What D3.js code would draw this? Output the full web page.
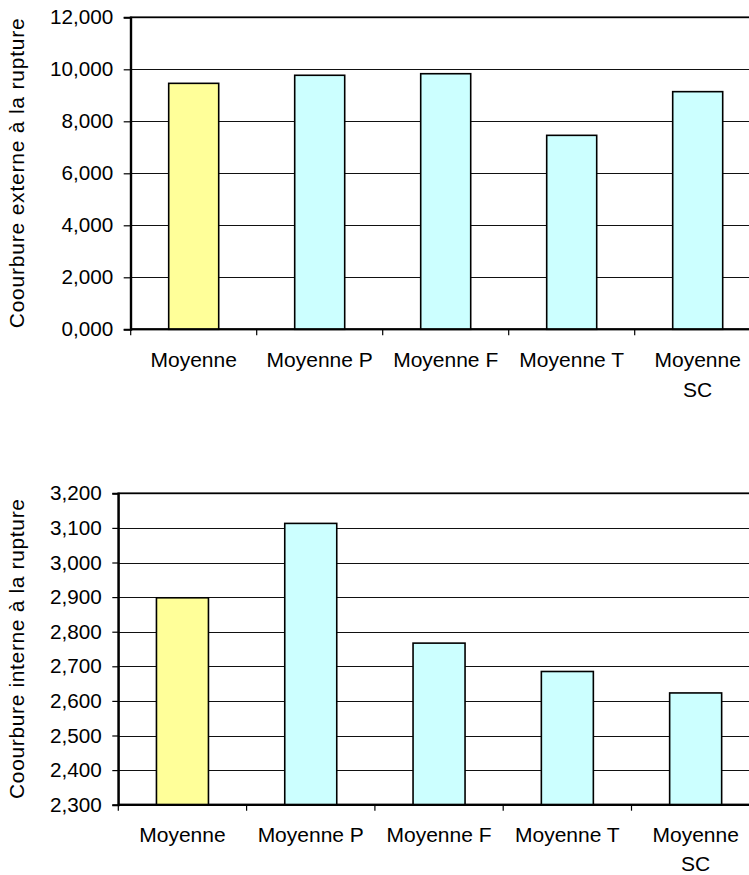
<!DOCTYPE html>
<html>
<head>
<meta charset="utf-8">
<script src="https://cdn.jsdelivr.net/npm/d3@7"></script>
<style>
  body { margin: 0; background: #fff; }
  svg { display: block; font-family: "Liberation Sans", Arial, sans-serif; }
</style>
</head>
<body>
<svg id="chart" width="749" height="875"></svg>
<script>
// ---- Data ----
const categories = ["Moyenne", "Moyenne P", "Moyenne F", "Moyenne T", "Moyenne SC"];
const categoryLabels = [["Moyenne"], ["Moyenne P"], ["Moyenne F"], ["Moyenne T"], ["Moyenne", "SC"]];
const externeValues = [9.46, 9.77, 9.83, 7.46, 9.14];
const interneValues = [2.898, 3.113, 2.767, 2.685, 2.623];
const externeTicks = [0, 2, 4, 6, 8, 10, 12];
const interneTicks = [2.3, 2.4, 2.5, 2.6, 2.7, 2.8, 2.9, 3.0, 3.1, 3.2];
const barColors = ["#FFFF99", "#CCFFFF", "#CCFFFF", "#CCFFFF", "#CCFFFF"];
const externeTitle = "Coourbure externe à la rupture";
const interneTitle = "Coourbure interne à la rupture";

const fr = d3.formatLocale({decimal: ",", thousands: " ", grouping: [3], currency: ["", ""]});
const fmt = fr.format(".3f");

const svg = d3.select("#chart");

function drawChart(cfg) {
  const g = svg.append("g");
  const n = categories.length;
  const width = cfg.step * n;
  const p = 1 - cfg.barW / cfg.step;
  const x = d3.scaleBand().domain(categories).range([cfg.left, cfg.left + width])
    .paddingInner(p).paddingOuter(p / 2);
  const y = d3.scaleLinear().domain(cfg.domain).range([cfg.bottom, cfg.top]);
  const xb = d3.scaleLinear().domain([0, n]).range([cfg.left, cfg.left + width]);

  // gridlines
  g.append("g").selectAll("line").data(cfg.ticks).join("line")
    .attr("x1", cfg.left).attr("x2", cfg.left + width)
    .attr("y1", d => Math.round(y(d)) + 0.5).attr("y2", d => Math.round(y(d)) + 0.5)
    .attr("stroke", "#111").attr("stroke-width", 1);

  // plot border
  g.append("rect").attr("x", cfg.left).attr("y", cfg.top)
    .attr("width", width).attr("height", cfg.bottom - cfg.top)
    .attr("fill", "none").attr("stroke", "#000").attr("stroke-width", 1.8);

  // bars
  g.append("g").selectAll("rect").data(cfg.values).join("rect")
    .attr("x", (d, i) => x(categories[i]))
    .attr("width", x.bandwidth())
    .attr("y", d => y(d))
    .attr("height", d => cfg.bottom - y(d))
    .attr("fill", (d, i) => barColors[i])
    .attr("stroke", "#000").attr("stroke-width", 1.6);

  // y axis
  const ya = g.append("g").attr("transform", `translate(${cfg.left},0)`)
    .call(d3.axisLeft(y).tickValues(cfg.ticks).tickFormat(fmt).tickSize(cfg.tickLen).tickPadding(cfg.tickPad));
  ya.select(".domain").attr("stroke", "#000").attr("stroke-width", 2);
  ya.selectAll(".tick line").attr("stroke", "#000").attr("stroke-width", 1.2);
  ya.selectAll(".tick text").attr("font-size", 20.7).attr("fill", "#000")
    .attr("font-family", "Liberation Sans, Arial, sans-serif");

  // x axis line and boundary ticks
  g.append("line").attr("x1", cfg.left).attr("x2", cfg.left + width)
    .attr("y1", cfg.bottom).attr("y2", cfg.bottom).attr("stroke", "#000").attr("stroke-width", 2);
  g.append("g").selectAll("line").data(d3.range(n + 1)).join("line")
    .attr("x1", d => xb(d)).attr("x2", d => xb(d))
    .attr("y1", cfg.bottom).attr("y2", cfg.bottom + 6)
    .attr("stroke", "#000").attr("stroke-width", 1.2);

  // category labels
  const lab = g.append("g").selectAll("text").data(categoryLabels).join("text")
    .attr("x", (d, i) => x(categories[i]) + x.bandwidth() / 2)
    .attr("y", cfg.labelY)
    .attr("text-anchor", "middle").attr("font-size", 21).attr("fill", "#000");
  lab.selectAll("tspan").data(d => d).join("tspan")
    .attr("x", function () { return this.parentNode.getAttribute("x"); })
    .attr("dy", (d, i) => i === 0 ? 0 : cfg.lineH)
    .text(d => d);

  // y title
  g.append("text")
    .attr("transform", `translate(${cfg.titleX},${(cfg.top + cfg.bottom) / 2}) rotate(-90)`)
    .attr("text-anchor", "middle").attr("font-size", 21).attr("fill", "#000")
    .attr("textLength", cfg.titleLen).attr("lengthAdjust", "spacing")
    .text(cfg.title);
}

drawChart({
  left: 130.7, step: 126, barW: 50, top: 17.3, bottom: 329.3,
  domain: [0, 12], ticks: externeTicks, values: externeValues,
  tickLen: 7, tickPad: 10.5, labelY: 367, lineH: 29.5, titleX: 24, title: externeTitle, titleLen: 310
});
drawChart({
  left: 118.3, step: 128.3, barW: 52, top: 493.3, bottom: 804.7,
  domain: [2.3, 3.2], ticks: interneTicks, values: interneValues,
  tickLen: 6, tickPad: 10.5, labelY: 842, lineH: 28.5, titleX: 24, title: interneTitle, titleLen: 300
});
</script>
</body>
</html>
